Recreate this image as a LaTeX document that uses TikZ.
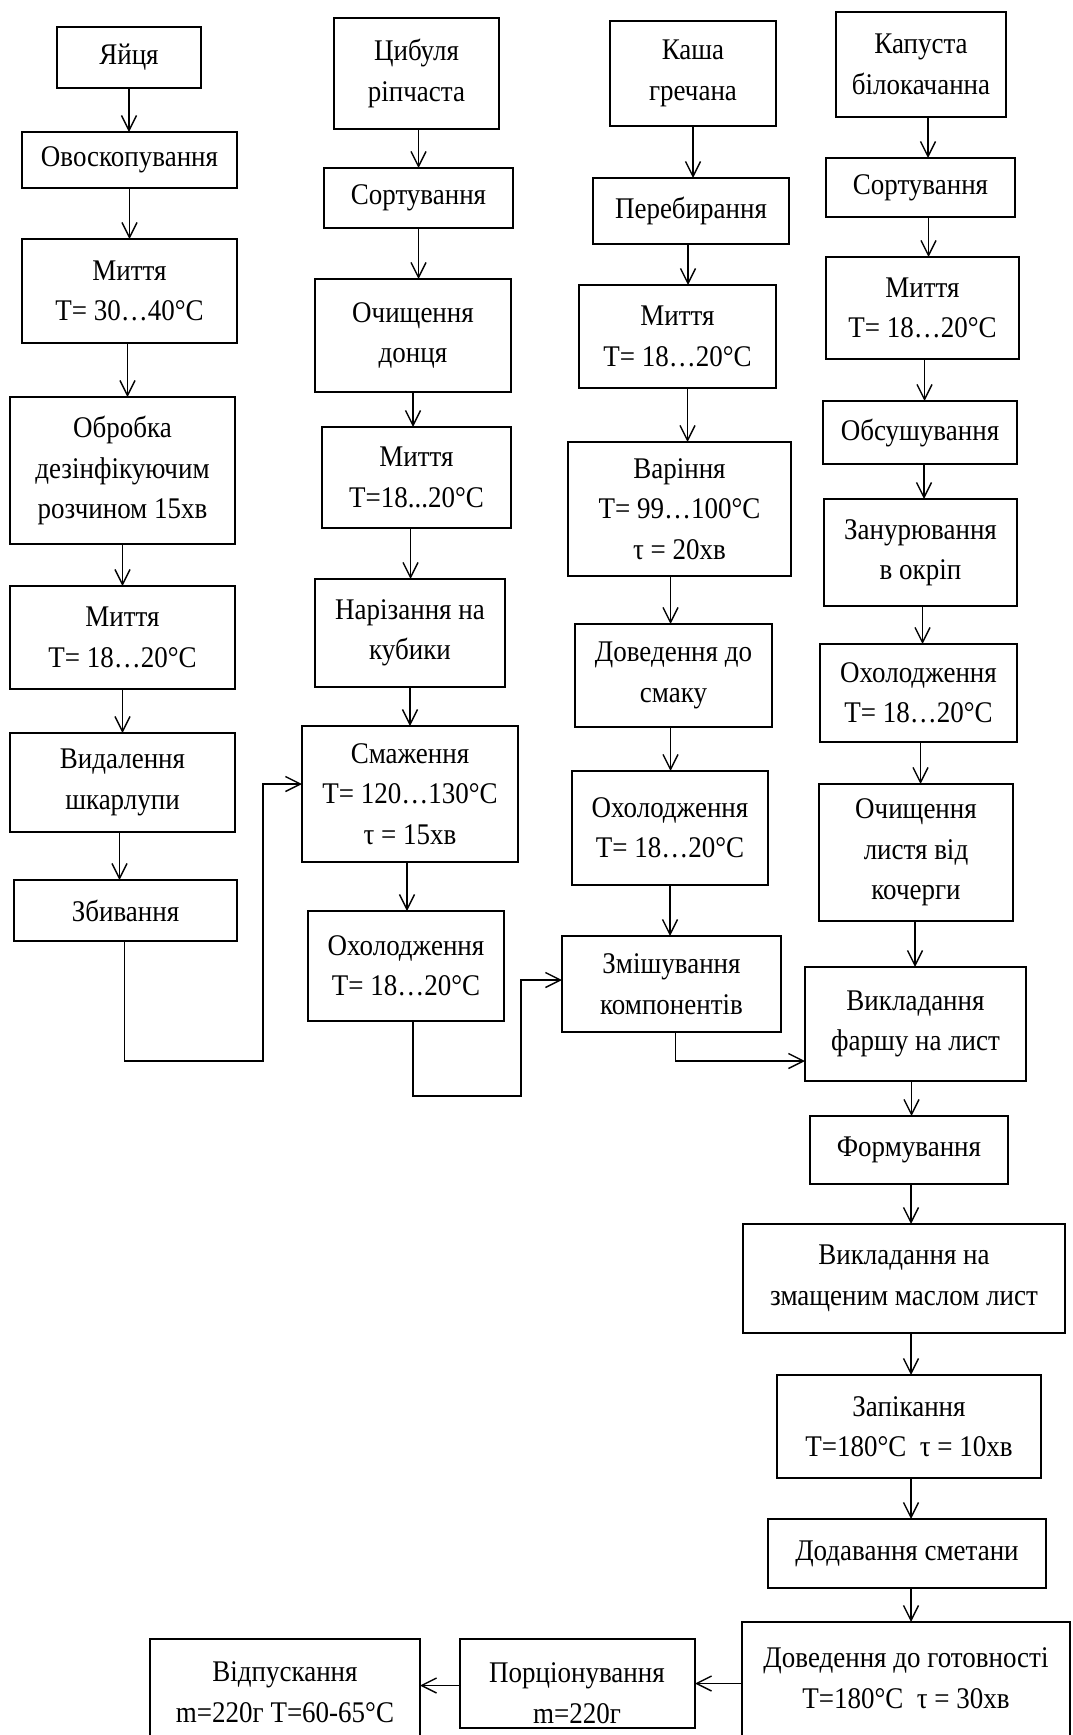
\documentclass[tikz,border=0pt]{standalone}
\usepackage{fontspec}
\setmainfont{Liberation Serif}[FakeStretch=0.9]
\usetikzlibrary{arrows.meta}
% box given by its corners (x1,y1) (x2,y2), text centred inside
\newcommand\boxat[6]{%
  \pgfmathsetmacro\bcx{(#2+#4)/2}\pgfmathsetmacro\bcy{(#3+#5)/2}%
  \pgfmathsetmacro\bw{#4-#2}\pgfmathsetmacro\bh{#5-#3}%
  \node[box, minimum width=\bw pt, minimum height=\bh pt] (#1) at (\bcx,\bcy) {#6};}
% vertical step arrow from one box down to the next, optional sideways offset
\newcommand\flow[3][0]{\draw[arr] ([xshift=#1pt]#2.south) -- ([xshift=#1pt]#2.south |- #3.north);}
\begin{document}
\begin{tikzpicture}[x=1pt,y=-1pt,
  box/.style={draw=black, line width=1.8pt, inner sep=0pt, outer sep=0pt,
    align=center, font=\fontsize{30}{40.5}\selectfont},
  txt/.style={inner sep=0pt, align=center, font=\fontsize{30}{40.5}\selectfont},
  arr/.style={line width=1.4pt, -{Straight Barb[length=15pt,width=15pt]}}]
\useasboundingbox (0,0) rectangle (1072,1735);
\clip (0,0) rectangle (1072,1735);

% --- eggs
\boxat{egg}{57}{27}{201}{88}{Яйця}
\boxat{ovo}{22}{132}{237}{188}{Овоскопування}
\boxat{w1}{22}{239}{237}{343}{Миття\\T= 30…40°C}
\boxat{dis}{10}{397}{235}{544}{Обробка\\дезінфікуючим\\розчином 15хв}
\boxat{w1b}{10}{586}{235}{689}{Миття\\T= 18…20°C}
\boxat{shell}{10}{733}{235}{832}{Видалення\\шкарлупи}
\boxat{beat}{14}{880}{237}{941}{Збивання}

% --- onion
\boxat{onion}{334}{18}{499}{129}{Цибуля\\ріпчаста}
\boxat{sort2}{324}{168}{513}{228}{Сортування}
\boxat{root}{315}{279}{511}{392}{Очищення\\донця}
\boxat{w2}{322}{427}{511}{528}{Миття\\T=18...20°C}
\boxat{cut}{315}{579}{505}{687}{Нарізання на\\кубики}
\boxat{fry}{302}{726}{518}{862}{Смаження\\T= 120…130°C\\τ = 15хв}
\boxat{cool2}{308}{911}{504}{1021}{Охолодження\\T= 18…20°C}

% --- buckwheat
\boxat{kasha}{610}{21}{776}{126}{Каша\\гречана}
\boxat{pick}{593}{178}{789}{244}{Перебирання}
\boxat{w3}{579}{285}{776}{388}{Миття\\T= 18…20°C}
\boxat{boil}{568}{442}{791}{576}{Варіння\\T= 99…100°C\\τ = 20хв}
\boxat{taste}{575}{624}{772}{727}{Доведення до\\смаку}
\boxat{cool3}{572}{771}{768}{885}{Охолодження\\T= 18…20°C}
\boxat{mix}{562}{936}{781}{1032}{Змішування\\компонентів}

% --- cabbage and final steps
\boxat{cab}{836}{12}{1006}{117}{Капуста\\білокачанна}
\boxat{sort4}{826}{158}{1015}{217}{Сортування}
\boxat{w4}{826}{257}{1019}{359}{Миття\\T= 18…20°C}
\boxat{dry}{823}{401}{1017}{464}{Обсушування}
\boxat{dip}{824}{499}{1017}{606}{Занурювання\\в окріп}
\boxat{cool4}{820}{644}{1017}{742}{Охолодження\\T= 18…20°C}
\boxat{peel}{819}{784}{1013}{921}{Очищення\\листя від\\кочерги}
\boxat{lay}{805}{967}{1026}{1081}{Викладання\\фаршу на лист}
\boxat{form}{810}{1116}{1008}{1184}{Формування}
\boxat{tray}{743}{1224}{1065}{1333}{Викладання на\\змащеним маслом лист}
\boxat{bake}{777}{1375}{1041}{1478}{Запікання\\T=180°C~ τ = 10хв}
\boxat{cream}{768}{1519}{1046}{1588}{Додавання сметани}
\boxat{fin}{742}{1622}{1070}{1750}{}
\node[txt] (fint) at (906,1678) {Доведення до готовності\\T=180°C~ τ = 30хв};
\boxat{por}{460}{1639}{695}{1728}{}
\node[txt] (port) at (577,1693) {Порціонування\\m=220г};
\boxat{vid}{150}{1639}{420}{1750}{}
\node[txt] (vidt) at (285,1692) {Відпускання\\m=220г T=60-65°C};

% --- straight flows
\flow{egg}{ovo}
\flow{ovo}{w1}
\flow[-2]{w1}{dis}
\flow{dis}{w1b}
\flow{w1b}{shell}
\flow[-3]{shell}{beat}
\flow[2]{onion}{sort2}
\flow{sort2}{root}
\flow{root}{w2}
\flow[-6]{w2}{cut}
\flow{cut}{fry}
\flow[-3]{fry}{cool2}
\flow{kasha}{pick}
\flow[-3]{pick}{w3}
\flow[10]{w3}{boil}
\flow[-9]{boil}{taste}
\flow[-3]{taste}{cool3}
\flow{cool3}{mix}
\flow[7]{cab}{sort4}
\flow[8]{sort4}{w4}
\flow[2]{w4}{dry}
\flow[4]{dry}{dip}
\flow[2]{dip}{cool4}
\flow[2]{cool4}{peel}
\flow[-1]{peel}{lay}
\flow[-4]{lay}{form}
\flow[2]{form}{tray}
\flow[7]{tray}{bake}
\flow[2]{bake}{cream}
\flow[4]{cream}{fin}

% --- merging lines
\coordinate (j1) at (263,1061);
\draw[arr] ([xshift=-1pt]beat.south) |- (j1) |- ([yshift=10pt]fry.west);
\coordinate (j2) at (521,1096);
\draw[arr] ([xshift=7pt]cool2.south) |- (j2) |- ([yshift=4pt]mix.west);
\draw[arr] ([xshift=4pt]mix.south) |- ([yshift=-37pt]lay.west);

% --- final row, right to left
\draw[arr] (por.east -| fin.west) -- (por.east);
\draw[arr] ([yshift=-2pt]por.west) -- ([yshift=-2pt]por.west -| vid.east);
\end{tikzpicture}
\end{document}
